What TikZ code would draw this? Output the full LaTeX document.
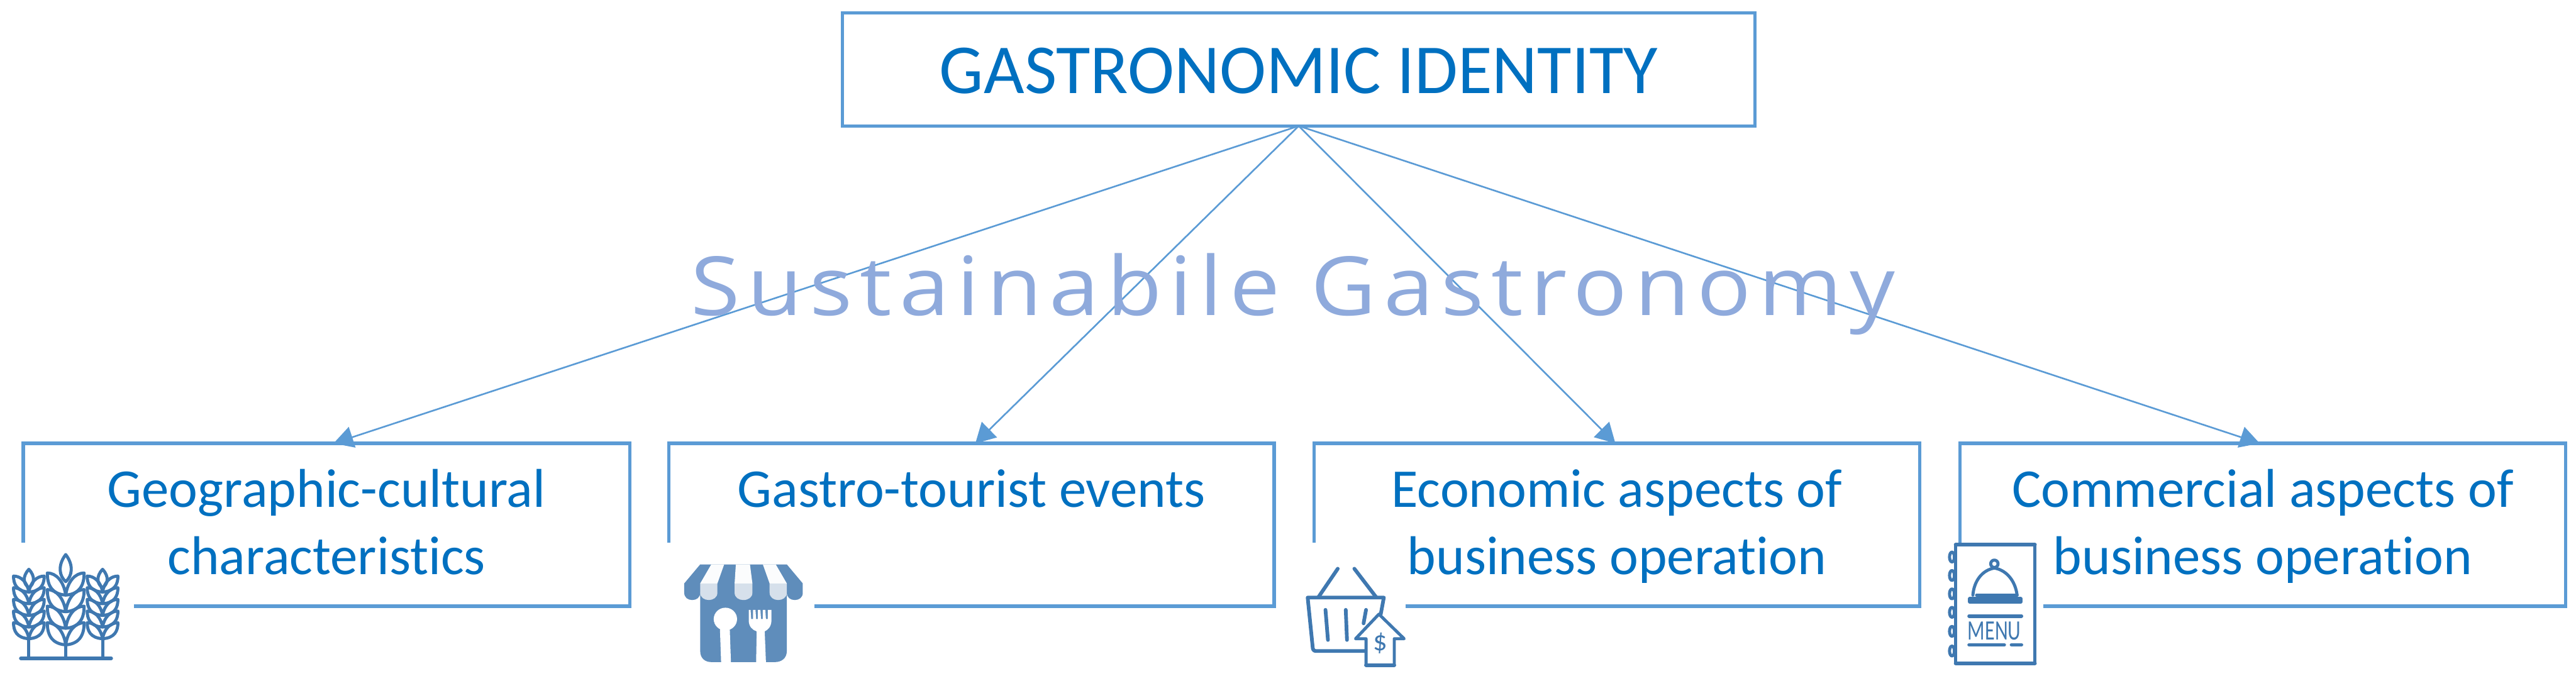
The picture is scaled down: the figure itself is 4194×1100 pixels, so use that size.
\documentclass[tikz,border=0pt]{standalone}
\usepackage{fontspec}
\setmainfont{Carlito}[Ligatures=NoCommon]
\newfontfamily\titlefont[LetterSpace=8.3]{Open Sans}
\usetikzlibrary{arrows.meta}
\definecolor{linkblue}{HTML}{5B9BD5}
\definecolor{textblue}{HTML}{0070C0}
\definecolor{overblue}{HTML}{8FAADC}
\definecolor{iconblue}{HTML}{3F78B0}
\definecolor{storeblue}{HTML}{5F8DBB}
\definecolor{storelight}{HTML}{D6E0EB}
\newcommand{\boxlines}[4]{\parbox[c][#2cm][t]{#1cm}{\centering\rule{0pt}{#3cm}#4}}
% cx, ear top, ear bottom, half width, rows, row spacing, leaf height, tip height
\newcommand{\wheatstalk}[8]{%
  \draw[iconline] (#1,#3) -- (#1,1072);
  \draw[iconline] (#1,#2) .. controls (#1+#4*0.45,#2+#8*0.4) and (#1+#4*0.35,#2+#8*0.8) .. (#1,#2+#8)
     .. controls (#1-#4*0.35,#2+#8*0.8) and (#1-#4*0.45,#2+#8*0.4) .. (#1,#2);
  \foreach \k in {1,...,#5}{
    \pgfmathsetmacro{\yb}{#3-(\k-1)*#6}
    \draw[iconline] (#1,\yb) .. controls (#1+#4*0.8,\yb-#7*0.05) and (#1+#4,\yb-#7*0.5) .. (#1+#4,\yb-#7)
       .. controls (#1+#4*0.5,\yb-#7) and (#1+#4*0.1,\yb-#7*0.6) .. (#1,\yb)
       .. controls (#1-#4*0.1,\yb-#7*0.6) and (#1-#4*0.5,\yb-#7) .. (#1-#4,\yb-#7)
       .. controls (#1-#4,\yb-#7*0.5) and (#1-#4*0.8,\yb-#7*0.05) .. (#1,\yb);
  }%
}
\tikzset{
  x=0.01cm,y=-0.01cm,
  headbox/.style={draw=linkblue,line width=0.05cm,inner sep=0pt,outer sep=0pt,text=textblue,fill=white,
    font=\fontsize{32.5}{40}\selectfont},
  subbox/.style={draw=linkblue,line width=0.055cm,inner sep=0pt,outer sep=0pt,text=textblue,fill=white,
    font=\fontsize{25.3}{31}\selectfont},
  link/.style={draw=linkblue,line width=0.027cm,-{Triangle[length=0.32cm,width=0.35cm]}},
  overtext/.style={inner sep=0pt,outer sep=0pt,anchor=base,text=overblue,font=\titlefont\fontsize{37.8}{45}\selectfont},
  iconbg/.style={fill=white,draw=none},
  iconline/.style={draw=iconblue,line width=0.05cm,line cap=round,line join=round},
  iconthick/.style={draw=iconblue,line width=0.06cm,line cap=round,line join=round},
  icontext/.style={inner sep=0pt,outer sep=0pt,text=iconblue}
}
\begin{document}
\begin{tikzpicture}
\useasboundingbox (0,0) rectangle (4194,1100);
% boxes
\node[headbox] (top) at (2114.5,113) {\boxlines{14.85}{1.84}{1.31}{GASTRONOMIC IDENTITY}};
\node[subbox] (b1) at (531.5,854.5) {\boxlines{9.87}{2.65}{1.04}{Geographic-cultural\\characteristics}};
\node[subbox] (b2) at (1581.5,854.5) {\boxlines{9.85}{2.65}{1.04}{Gastro-tourist events}};
\node[subbox] (b3) at (2632.5,854.5) {\boxlines{9.85}{2.65}{1.04}{Economic aspects of\\business operation}};
\node[subbox] (b4) at (3684,854.5) {\boxlines{9.86}{2.65}{1.04}{Commercial aspects of\\business operation}};
% connectors
\draw[link] (top.south) -- ([xshift=0.115cm]b1.north);
\draw[link] (top.south) -- ([xshift=0.065cm]b2.north);
\draw[link] (top.south) -- ([xshift=-0.025cm]b3.north);
\draw[link] (top.south) -- ([xshift=-0.05cm]b4.north);
% overlay text
\node[overtext] (over) at (2105,514) {\scalebox{1.1}[1]{Sustainabile Gastronomy}};
% icon backgrounds
\fill[iconbg] (0,884) rectangle (218,1100);
\fill[iconbg] (1060,884) rectangle (1326,1100);
\fill[iconbg] (2110,884) rectangle (2288,1100);
\fill[iconbg] (3150,884) rectangle (3327,1100);
% wheat
\draw[iconthick] (34,1072) -- (181,1072);
\wheatstalk{107}{903}{1050}{30}{4}{27}{36}{44}
\wheatstalk{47}{927}{1040}{25}{5}{19}{26}{30}
\wheatstalk{167}{927}{1040}{25}{5}{19}{26}{30}
% store
\fill[storeblue] (1140,950) -- (1281,950) -- (1281,1060) .. controls (1281,1072) and (1272,1078) .. (1262,1078)
   -- (1158,1078) .. controls (1148,1078) and (1140,1072) .. (1140,1060) -- cycle;
\fill[storeblue] (1140,919) -- (1281,919) -- (1307,950) -- (1307,965) .. controls (1307,973) and (1301,977) .. (1294,977)
   .. controls (1287,977) and (1281,973) .. (1281,965) -- (1140,965) .. controls (1140,973) and (1134,977) .. (1127,977)
   .. controls (1120,977) and (1114,973) .. (1114,965) -- (1114,950) -- cycle;
\fill[white!90!storelight] (1158,919) -- (1179,919) -- (1168,950) -- (1140,950) -- cycle;
\fill[white!90!storelight] (1198,919) -- (1221,919) -- (1225,950) -- (1196,950) -- cycle;
\fill[white!90!storelight] (1242,919) -- (1263,919) -- (1281,950) -- (1253,950) -- cycle;
\fill[storelight] (1140,950) -- (1168,950) -- (1168,965) .. controls (1168,973) and (1161,977) .. (1154,977) .. controls (1147,977) and (1140,973) .. (1140,965) -- cycle;
\fill[storelight] (1196,950) -- (1225,950) -- (1225,965) .. controls (1225,973) and (1218,977) .. (1210,977) .. controls (1203,977) and (1196,973) .. (1196,965) -- cycle;
\fill[storelight] (1253,950) -- (1281,950) -- (1281,965) .. controls (1281,973) and (1274,977) .. (1267,977) .. controls (1260,977) and (1253,973) .. (1253,965) -- cycle;
% spoon and fork
\fill[white] (1181,1008) ellipse [x radius=19,y radius=18.5];
\fill[white] (1172,1020) -- (1188,1020) -- (1190,1078) -- (1174,1078) -- cycle;
\fill[white] (1219,993) -- (1222,993) -- (1223,1008) -- (1226,1008) -- (1226,993) -- (1230,993) -- (1231,1008) -- (1234,1008) -- (1234,993) -- (1238,993) -- (1239,1008) -- (1242,1008) -- (1242,993) -- (1246,993) -- (1247,1008) -- (1250,1008) -- (1250,993) -- (1256,993)
   -- (1256,1010) .. controls (1256,1020) and (1250,1026) .. (1245,1028) -- (1247,1078) -- (1231,1078) -- (1232,1028) .. controls (1225,1026) and (1219,1020) .. (1219,1010) -- cycle;
% basket
\draw[iconthick] (2178,926) -- (2146,973);
\draw[iconthick] (2205,926) -- (2241,973);
\draw[iconthick,fill=white] (2129,973) -- (2253,973) -- (2248,1000) -- (2228,1060) -- (2142,1060) .. controls (2138,1060) and (2137,1056) .. (2137,1052) -- cycle;
\draw[iconthick] (2158,993) -- (2162,1042);
\draw[iconthick] (2191,993) -- (2193,1042);
\draw[iconthick] (2224,993) -- (2220,1015);
\draw[iconline,fill=white] (2245,1000) -- (2286,1040) -- (2270,1040) -- (2270,1083) -- (2224,1083) -- (2224,1040) -- (2207,1040) -- cycle;
\draw[iconthick] (2224,1083) -- (2270,1083);
\node[icontext,font=\fontsize{13}{15}\selectfont] (dollar) at (2247,1047) {\$};
% menu
\draw[iconline,fill=white] (3184,887) rectangle (3313,1080);
\draw[iconthick] (3184,887) -- (3313,887);
\draw[iconthick] (3184,1080) -- (3313,1080);
\foreach \ry in {907,937,967,997,1028,1060}
  \draw[iconline] (3178,\ry) ellipse [x radius=4,y radius=8];
\draw[iconline] (3212,969) .. controls (3214,945) and (3228,928) .. (3247,925) .. controls (3266,928) and (3281,945) .. (3284,969);
\draw[iconline] (3247,918) circle [radius=6];
\draw[iconthick] (3207,975) rectangle (3290,980);
\draw[iconline] (3218,969) -- (3284,969);
\draw[iconthick] (3206,1003) -- (3291,1003);
\node[icontext,font=\fontsize{13}{15}\selectfont] (menu) at (3247,1027) {\scalebox{0.72}[1]{MENU}};
\draw[iconthick] (3206,1050) -- (3263,1050);
\draw[iconthick] (3275,1050) -- (3291,1050);
\end{tikzpicture}
\end{document}
